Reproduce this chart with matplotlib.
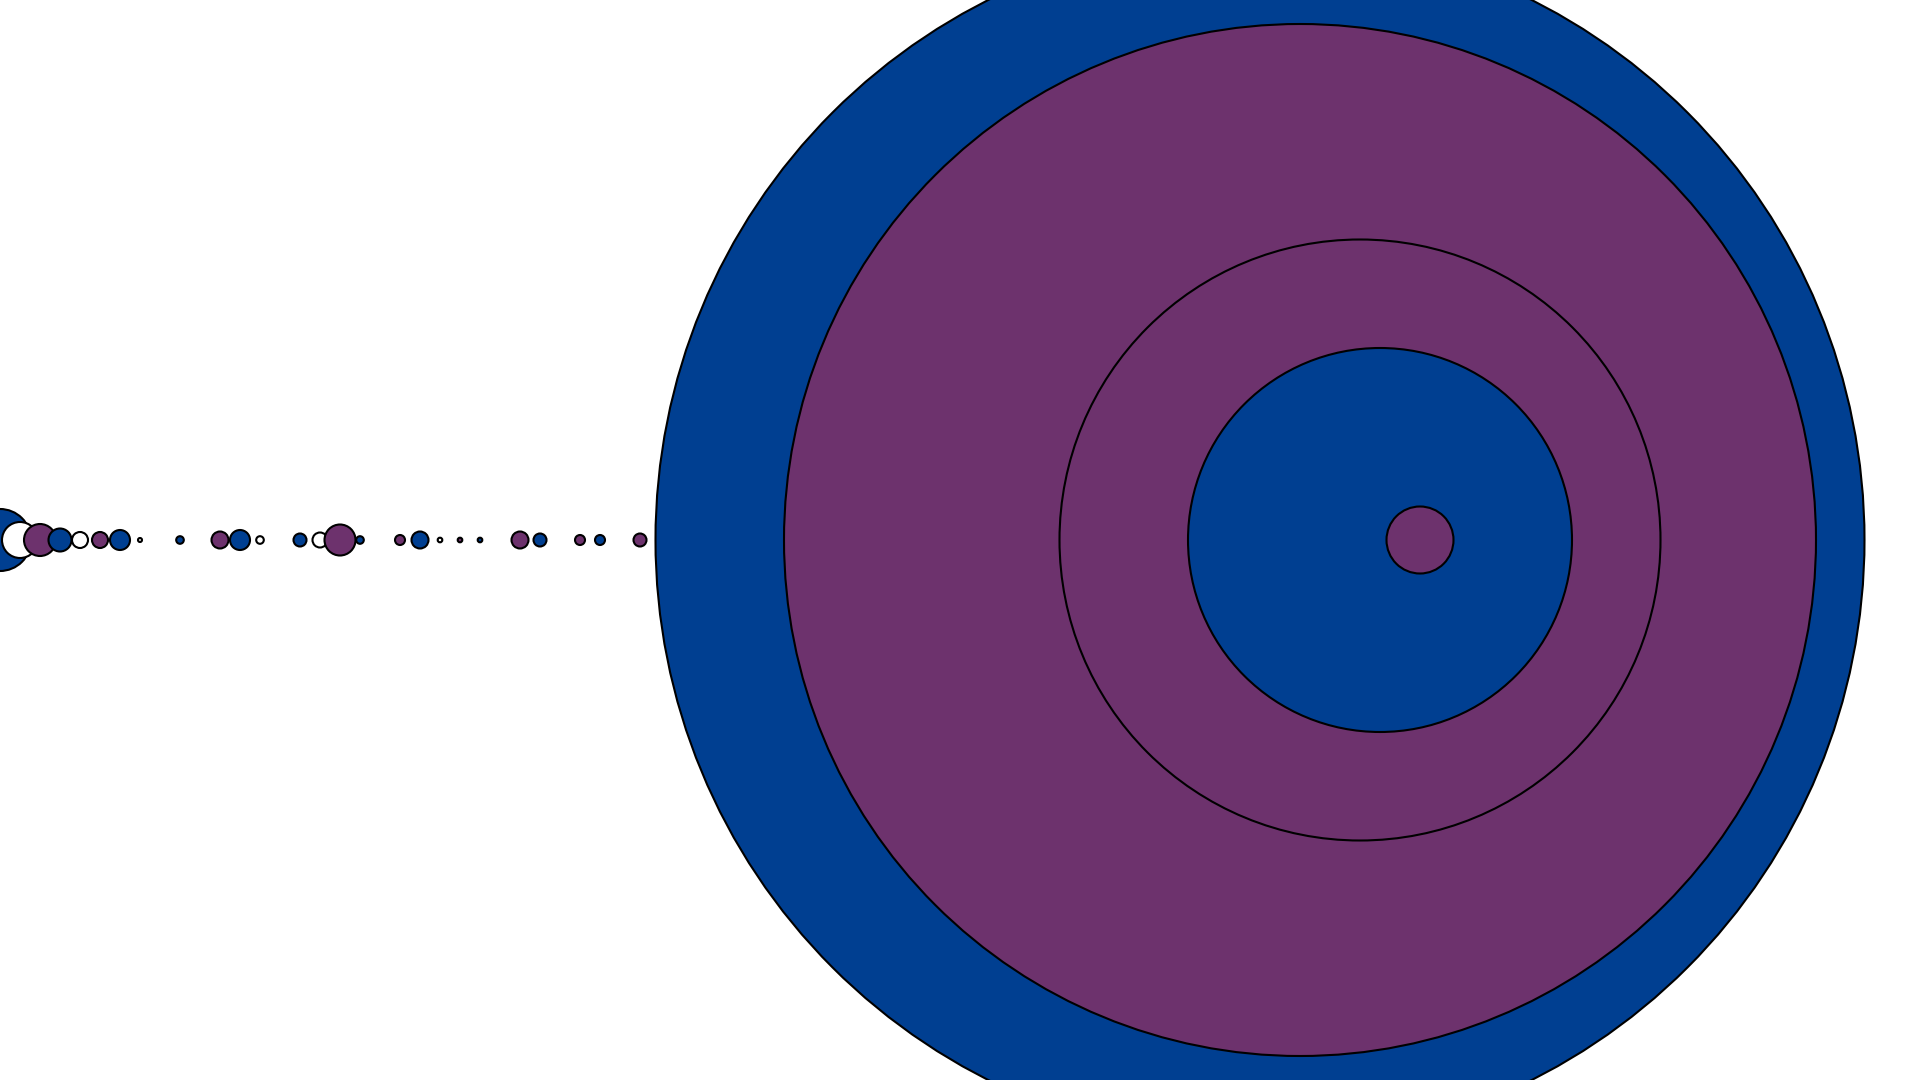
import matplotlib
matplotlib.use("Agg")
import matplotlib.pyplot as plt
from matplotlib.patches import Circle

# Radius (px) of each bubble, by position index along the row (0 = no bubble)
radii = [
    31, 18, 16, 11.5, 8, 8, 10, 2, 0, 3.8,
    0, 8.5, 10, 3.8, 0, 6.5, 7.5, 15.5, 3.8, 0,
    5, 8.5, 2.3, 2.3, 2.3, 0, 8.5, 6.5, 0, 5,
    5, 0, 6.5, 0, 0, 0, 0, 0, 0, 0,
    0, 0, 0, 0, 0, 0, 0, 0, 0, 0,
    0, 0, 0, 0, 0, 0, 0, 0, 0, 0,
    0, 0, 0, 604.5, 0, 516, 0, 0, 300.5, 192,
    0, 33.5,
]
palette = ["#003F91", "#FFFFFF", "#6D326D"]   # colour cycles with index

step = 20      # px between positions
row_y = 540

fig = plt.figure(figsize=(19.2, 10.8), dpi=100)
ax = fig.add_axes([0, 0, 1, 1])
ax.set_xlim(0, 1920)
ax.set_ylim(0, 1080)
ax.set_aspect("equal")
ax.axis("off")

for i, r in enumerate(radii):
    if r <= 0:
        continue
    ax.add_patch(Circle((i * step, row_y), r,
                        facecolor=palette[i % 3], edgecolor="black",
                        linewidth=1.5, zorder=i + 1))

fig.savefig("out.png", dpi=100)
